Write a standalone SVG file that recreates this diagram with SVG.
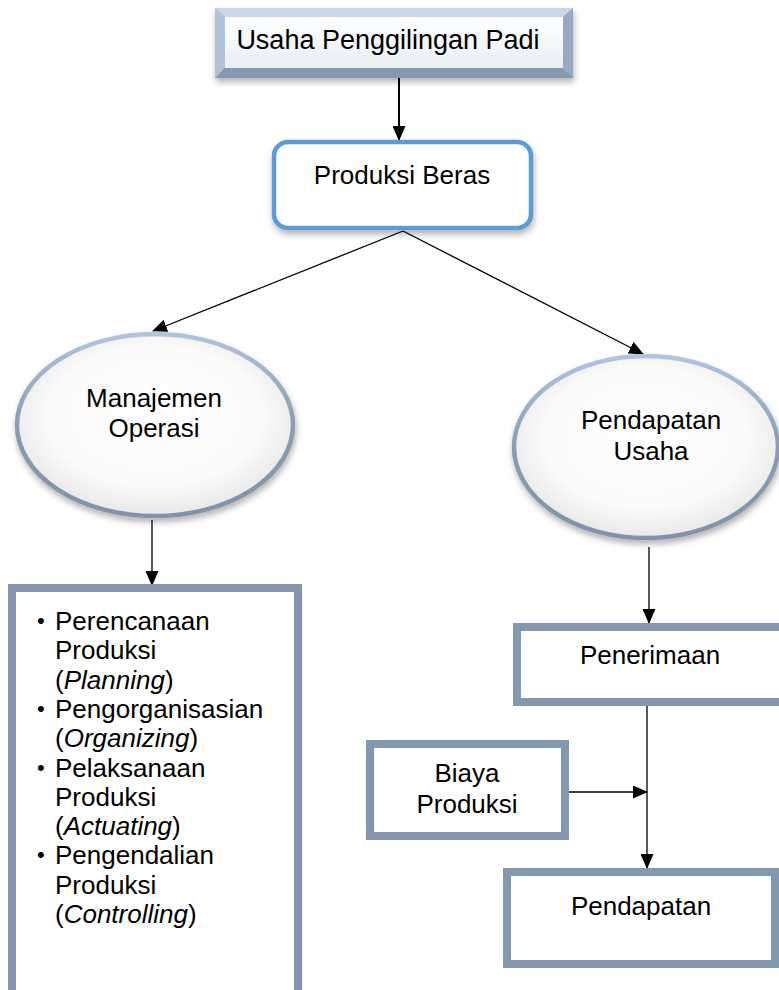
<svg xmlns="http://www.w3.org/2000/svg" width="779" height="990" viewBox="0 0 779 990">
<style>
text{font-family:"Liberation Sans",Arial,sans-serif;font-size:26px;fill:#000}
.c{text-anchor:middle}
.box{fill:#fff;stroke:#8497b0;stroke-width:8}
.ell{fill:url(#ellFill);stroke:url(#ellStroke);stroke-width:4.5}
.con{stroke:#000;stroke-width:1.3;fill:none;marker-end:url(#ah)}
.bul{font-size:22px}
</style>
<defs>
<marker id="ah" markerUnits="userSpaceOnUse" markerWidth="15" markerHeight="13" refX="14" refY="6.5" orient="auto" viewBox="0 0 15 13">
<path d="M0,0 L15,6.5 L0,13 z" fill="#000"/>
</marker>
<filter id="sh" x="-10%" y="-10%" width="130%" height="140%">
<feDropShadow dx="1" dy="4" stdDeviation="3" flood-color="#000" flood-opacity="0.3"/>
</filter>
<radialGradient id="ellFill" cx="0.5" cy="0.45" r="0.55">
<stop offset="0" stop-color="#ffffff"/>
<stop offset="0.7" stop-color="#fafafa"/>
<stop offset="1" stop-color="#e8e8e8"/>
</radialGradient>
<linearGradient id="ellStroke" x1="0" y1="0" x2="0" y2="1">
<stop offset="0" stop-color="#b0c4e0"/>
<stop offset="0.5" stop-color="#8a9db6"/>
<stop offset="1" stop-color="#8193ab"/>
</linearGradient>
<linearGradient id="face" x1="0" y1="0" x2="0" y2="1">
<stop offset="0" stop-color="#ffffff"/>
<stop offset="1" stop-color="#e9eef5"/>
</linearGradient>
</defs>

<g id="connectors">
<line x1="399" y1="70" x2="399" y2="140" stroke="#000" stroke-width="2" marker-end="url(#ah)"/>
<line class="con" x1="403" y1="231" x2="153" y2="331"/>
<line class="con" x1="403" y1="231" x2="643" y2="354"/>
<line class="con" x1="152" y1="520" x2="152" y2="585"/>
<line class="con" x1="649" y1="547" x2="649" y2="623"/>
<line class="con" x1="647" y1="706" x2="647" y2="868"/>
<line class="con" x1="565" y1="792" x2="647" y2="792"/>
</g>

<g id="usaha-penggilingan">
<g filter="url(#sh)">
<rect x="215" y="8" width="358" height="70" fill="#a9b9d0"/>
<polygon points="215,8 573,8 563,17 225,17" fill="#cad7e8"/>
<polygon points="215,8 225,17 225,68 215,78" fill="#b2c2d8"/>
<polygon points="573,8 573,78 563,68 563,17" fill="#97a9c3"/>
<polygon points="215,78 573,78 563,68 225,68" fill="#8499b4"/>
<rect x="225" y="17" width="338" height="51" fill="url(#face)"/>
</g>
<text class="c" x="388" y="49" style="font-size:27px">Usaha Penggilingan Padi</text>
</g>

<g id="produksi-beras">
<rect x="274" y="142" width="257" height="86" rx="14" fill="#fff" stroke="#5b9bd5" stroke-width="4.5" filter="url(#sh)"/>
<text class="c" x="402" y="184">Produksi Beras</text>
</g>

<g id="manajemen-operasi">
<ellipse class="ell" cx="155" cy="425" rx="138" ry="91" filter="url(#sh)"/>
<text class="c" x="154" y="407">Manajemen</text>
<text class="c" x="154" y="437">Operasi</text>
</g>

<g id="pendapatan-usaha">
<ellipse class="ell" cx="646" cy="447" rx="132" ry="91" filter="url(#sh)"/>
<text class="c" x="651" y="429">Pendapatan</text>
<text class="c" x="651" y="460">Usaha</text>
</g>

<g id="fungsi-manajemen">
<rect class="box" x="12" y="588" width="286" height="412"/>
<text class="bul" x="37" y="628">•</text><text x="55" y="630">Perencanaan</text>
<text x="55" y="659.3">Produksi</text>
<text x="55" y="688.6">(<tspan font-style="italic">Planning</tspan>)</text>
<text class="bul" x="37" y="716">•</text><text x="55" y="717.9">Pengorganisasian</text>
<text x="55" y="747.2">(<tspan font-style="italic">Organizing</tspan>)</text>
<text class="bul" x="37" y="774.5">•</text><text x="55" y="776.5">Pelaksanaan</text>
<text x="55" y="805.8">Produksi</text>
<text x="55" y="835.1">(<tspan font-style="italic">Actuating</tspan>)</text>
<text class="bul" x="37" y="862.4">•</text><text x="55" y="864.4">Pengendalian</text>
<text x="55" y="893.7">Produksi</text>
<text x="55" y="923">(<tspan font-style="italic">Controlling</tspan>)</text>
</g>

<g id="penerimaan">
<rect class="box" x="517" y="627" width="270" height="75"/>
<text class="c" x="650" y="664">Penerimaan</text>
</g>

<g id="biaya-produksi">
<rect class="box" x="370" y="744" width="195" height="92"/>
<text class="c" x="467" y="782">Biaya</text>
<text class="c" x="467" y="813">Produksi</text>
</g>

<g id="pendapatan">
<rect class="box" x="507" y="872" width="268" height="92"/>
<text class="c" x="641" y="915">Pendapatan</text>
</g>
</svg>
